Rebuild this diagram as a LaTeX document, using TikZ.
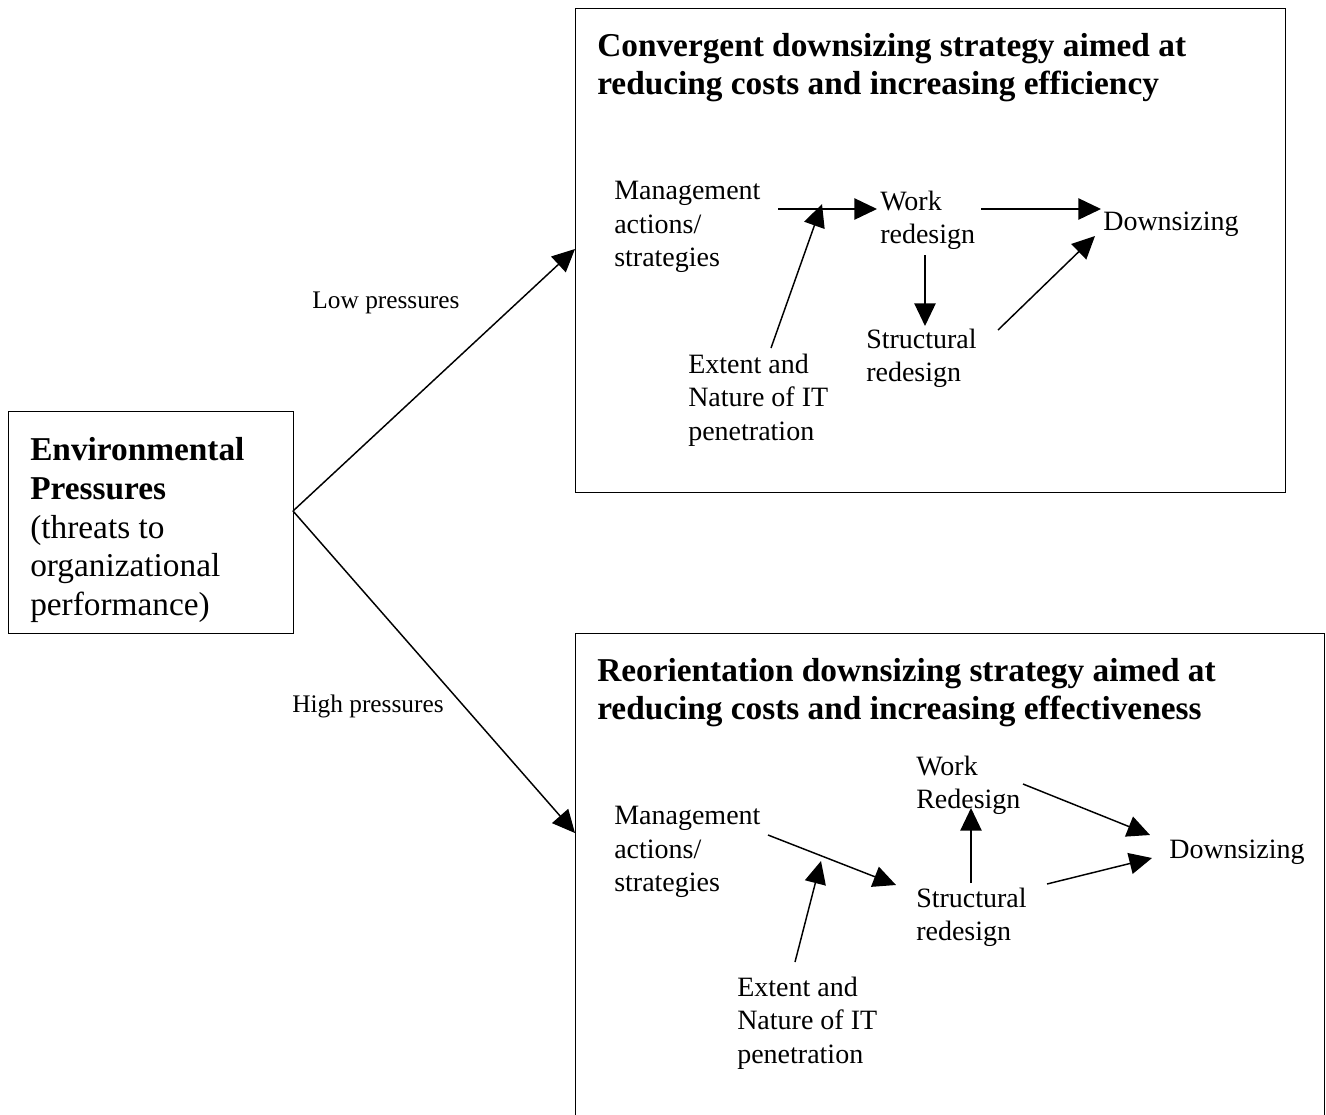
\documentclass[tikz,border=0pt]{standalone}
\usepackage{fontspec}
\setmainfont{Liberation Serif}
\usetikzlibrary{arrows.meta}
\begin{document}
\begin{tikzpicture}[x=0.75pt,y=-0.75pt,
  frame/.style={draw,line width=1.1pt,inner sep=0pt,anchor=north west},
  txt/.style={inner sep=0pt,anchor=west,align=left,font=\fontsize{21}{25}\selectfont},
  ttl/.style={inner sep=0pt,anchor=west,align=left,font=\fontsize{25}{28.5}\selectfont\bfseries},
  lbl/.style={inner sep=0pt,font=\fontsize{19}{22}\selectfont},
  arr/.style={line width=1.1pt,-{Triangle[length=17pt,width=16pt]}},
  ln/.style={line width=1.1pt}]
\clip (0,0) rectangle (1326,1114);
\fill[white] (0,0) rectangle (1326,1114);
% Environmental box
\node[frame,minimum width=213.75pt,minimum height=166.5pt] (envbox) at (8,411) {};
\node[inner sep=0pt,anchor=west,align=left,font=\fontsize{25}{29}\selectfont] (env) at (30,530)
  {\textbf{Environmental}\\\textbf{Pressures}\\(threats to\\organizational\\performance)};
% Strategy boxes
\node[frame,minimum width=532.5pt,minimum height=363pt] (conv) at (575,8) {};
\node[frame,minimum width=561.75pt,minimum height=400pt] (reor) at (575,633) {};
\node[ttl] (convtitle) at (597,68) {Convergent downsizing strategy aimed at\\reducing costs and increasing efficiency};
\node[ttl] (reortitle) at (597,693) {Reorientation downsizing strategy aimed at\\reducing costs and increasing effectiveness};
% main branches
\coordinate (split) at (293,511);
\coordinate (lowend) at (575,249);
\coordinate (highend) at (575,833);
\draw[arr] (split) -- (lowend);
\draw[arr] (split) -- (highend);
\node[lbl] (low) at (386,303) {Low pressures};
\node[lbl] (high) at (368,706) {High pressures};
% top box contents
\node[txt] (mg1) at (614,227) {Management\\actions/\\strategies};
\node[txt] (wr1) at (880,220.5) {Work\\redesign};
\node[txt] (ds1) at (1103,224) {Downsizing};
\node[txt] (sr1) at (866,358) {Structural\\redesign};
\node[txt] (it1) at (688,400) {Extent and\\Nature of IT\\penetration};
\coordinate (m1s) at (778,209);
\coordinate (m1e) at (877,209);
\coordinate (i1s) at (771,348);
\coordinate (i1e) at (822,204);
\coordinate (w1s) at (981,209);
\coordinate (w1e) at (1101,209);
\coordinate (wd1s) at (925,255);
\coordinate (wd1e) at (925,326);
\coordinate (s1s) at (998,330);
\coordinate (s1e) at (1095,236);
\draw[arr] (m1s) -- (m1e);
\draw[arr] (i1s) -- (i1e);
\draw[arr] (w1s) -- (w1e);
\draw[arr] (wd1s) -- (wd1e);
\draw[arr] (s1s) -- (s1e);
% bottom box contents
\node[txt] (mg2) at (614,852) {Management\\actions/\\strategies};
\node[txt] (wr2) at (916,785.5) {Work\\Redesign};
\node[txt] (sr2) at (916,917.5) {Structural\\redesign};
\node[txt] (ds2) at (1169,852) {Downsizing};
\node[txt] (it2) at (737,1023) {Extent and\\Nature of IT\\penetration};
\coordinate (m2s) at (768,835);
\coordinate (m2e) at (896,885);
\coordinate (i2s) at (795,962);
\coordinate (i2e) at (821,861);
\coordinate (su2s) at (971,883);
\coordinate (su2e) at (971,808);
\coordinate (w2s) at (1023,784);
\coordinate (w2e) at (1150,835);
\coordinate (s2s) at (1047,884);
\coordinate (s2e) at (1152,858);
\draw[arr] (m2s) -- (m2e);
\draw[arr] (i2s) -- (i2e);
\draw[arr] (su2s) -- (su2e);
\draw[arr] (w2s) -- (w2e);
\draw[arr] (s2s) -- (s2e);
\end{tikzpicture}
\end{document}
